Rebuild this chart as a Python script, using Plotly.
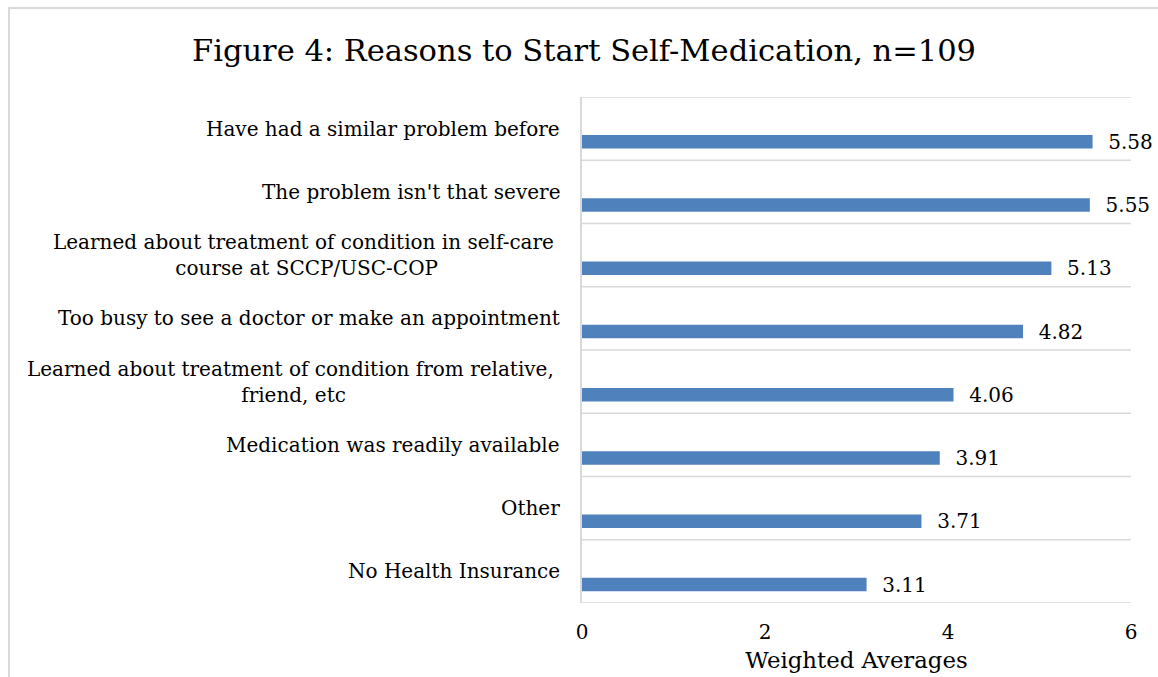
import plotly.graph_objects as go

# Survey results: weighted average score for each reason (n=109)
reasons = [
    "Have had a similar problem before",
    "The problem isn't that severe",
    "Learned about treatment of condition in self-care&nbsp;<br>course at SCCP/USC-COP",
    "Too busy to see a doctor or make an appointment",
    "Learned about treatment of condition from relative,&nbsp;<br>friend, etc",
    "Medication was readily available",
    "Other",
    "No Health Insurance",
]
weighted_avg = [5.58, 5.55, 5.13, 4.82, 4.06, 3.91, 3.71, 3.11]
x_ticks = [0, 2, 4, 6]

FONT = "DejaVu Serif"
BAR_BLUE = "#4F81BD"
GRID = "#D9D9D9"

# plot-area geometry (px)
L, R, T, B = 582, 27, 97, 74
W, H = 1158, 677
PW, PH = W - L - R, H - T - B

fig = go.Figure()
fig.add_trace(go.Bar(
    y=list(range(len(reasons))),
    x=weighted_avg,
    orientation="h",
    marker=dict(color=BAR_BLUE, line=dict(width=0)),
    width=0.215,
    offset=0.10,
    text=[f"&nbsp;&nbsp;{v:.2f}" for v in weighted_avg],
    textposition="outside",
    constraintext="none",
    cliponaxis=False,
    textfont=dict(family=FONT, size=20, color="black"),
    hoverinfo="skip",
))

# Category labels, lines centred within each label block
for i, label in enumerate(reasons):
    fig.add_annotation(
        x=0, xref="paper", y=i, yref="y",
        text=label, showarrow=False,
        xanchor="right", yanchor="middle", align="center",
        xshift=-20,
        font=dict(family=FONT, size=20, color="black"),
    )

# Horizontal separators on the category boundaries (including both ends)
for k in range(len(reasons) + 1):
    fig.add_shape(type="line", xref="paper", yref="y",
                  x0=0, x1=1, y0=k - 0.5, y1=k - 0.5,
                  line=dict(color=GRID, width=1.5), layer="below")

# Outer chart-area frame
fig.add_shape(type="rect", xref="paper", yref="paper",
              x0=(9 - L) / PW, x1=1.2, y0=-0.3, y1=1 + (T - 8) / PH,
              line=dict(color=GRID, width=2), fillcolor="rgba(0,0,0,0)",
              layer="below")

fig.update_layout(
    width=W, height=H,
    margin=dict(l=L, r=R, t=T, b=B, pad=0, autoexpand=False),
    paper_bgcolor="white", plot_bgcolor="white",
    showlegend=False,
    title=dict(
        text="Figure 4: Reasons to Start Self-Medication, n=109",
        font=dict(family=FONT, size=30.5, color="black"),
        x=584 / W, xref="container", xanchor="center",
        y=1 - 50 / H, yref="container", yanchor="middle",
    ),
    xaxis=dict(
        range=[0, 6], tickvals=x_ticks, showgrid=False, zeroline=False,
        showline=False, ticks="", ticklabelstandoff=15, automargin=False,
        tickfont=dict(family=FONT, size=20, color="black"),
        title=dict(text="Weighted Averages", standoff=9,
                   font=dict(family=FONT, size=22.8, color="black")),
        fixedrange=True,
    ),
    yaxis=dict(
        type="linear", range=[len(reasons) - 0.5, -0.5],
        showticklabels=False, ticks="", showgrid=False,
        zeroline=False, automargin=False,
        showline=True, linecolor=GRID, linewidth=1.5,
        fixedrange=True,
    ),
)

fig.write_html("out.html")
